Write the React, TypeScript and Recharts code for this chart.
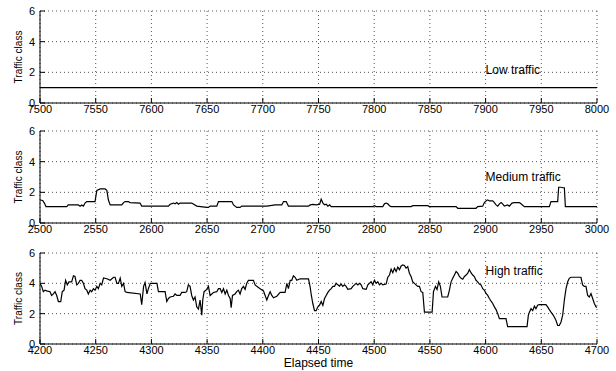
import { LineChart, Line, XAxis, YAxis, CartesianGrid, ReferenceDot } from 'recharts';

const classTicks = [0, 2, 4, 6];

// low traffic: flat at class 1
const lowTicks = [7500, 7550, 7600, 7650, 7700, 7750, 7800, 7850, 7900, 7950, 8000];
const lowTime = [7500, 8000];
const lowClass = [1, 1];

const mediumTicks = [2500, 2550, 2600, 2650, 2700, 2750, 2800, 2850, 2900, 2950, 3000];
const mediumTime = [
  2500, 2502.4, 2503.9, 2505.4, 2524, 2525.4, 2534.4, 2536, 2537.4, 2539,
  2540.4, 2542, 2549.4, 2551, 2554, 2558.4, 2560, 2561.4, 2563, 2573.4,
  2575, 2576.4, 2579.3, 2580.8, 2589.8, 2591.3, 2615.3, 2616.8, 2619.8, 2621.3,
  2622.8, 2624.3, 2625.7, 2636.2, 2640.7, 2649.7, 2651.2, 2652.7, 2658.7, 2660.2,
  2672.2, 2673.7, 2676.6, 2679.6, 2681.1, 2703.6, 2711.1, 2717, 2718.6, 2721,
  2723, 2741, 2742.5, 2745, 2748, 2751, 2752.4, 2754, 2755.4, 2757,
  2758.4, 2760, 2761.4, 2798.7, 2800.2, 2801.7, 2807.7, 2809.2, 2810.7, 2812.2,
  2813.7, 2815.2, 2833.1, 2834.6, 2848.1, 2849.6, 2873.5, 2875, 2891.4, 2892.9,
  2897.4, 2898.9, 2900.4, 2901.9, 2903.4, 2906.4, 2907.9, 2909.4, 2910.9, 2912.4,
  2913.9, 2915.3, 2916.8, 2919.8, 2921.3, 2923.7, 2925.8, 2930.3, 2931.8, 2934.8,
  2957.2, 2958.7, 2964.7, 2965.6, 2967.7, 2969.2, 2970.7, 2971.6, 3000,
];
const mediumClass = [
  1.5, 1.47, 1.3, 1.07, 1.07, 1.18, 1.18, 1.1, 1.18, 1.1,
  1.3, 1.4, 1.4, 2.13, 2.22, 2.22, 2.13, 1.5, 1.18, 1.18,
  1.33, 1.4, 1.4, 1.33, 1.3, 1.1, 1.1, 1.22, 1.3, 1.25,
  1.33, 1.22, 1.3, 1.3, 1.1, 1.02, 1.02, 1.1, 1.1, 1.4,
  1.4, 1.18, 1.02, 1.02, 1.1, 1.1, 1.18, 1.18, 1.4, 1.4,
  1.1, 1.1, 1.18, 1.22, 1.18, 1.22, 1.55, 1.3, 1.18, 1.22,
  1.1, 1.18, 1.07, 1.07, 1.13, 1.07, 1.07, 1.25, 1.3, 1.25,
  1.13, 1.07, 1.07, 1.13, 1.13, 1.07, 1.07, 0.96, 0.96, 1.07,
  1.1, 1.33, 1.44, 1.51, 1.44, 1.44, 1.33, 1.18, 1.1, 1.25,
  1.33, 1.25, 1.1, 1.18, 1.1, 1.3, 1.33, 1.33, 1.25, 1.07,
  1.07, 1.4, 1.4, 2.33, 2.33, 2.3, 2.3, 1.07, 1.07,
];

const highTicks = [4200, 4250, 4300, 4350, 4400, 4450, 4500, 4550, 4600, 4650, 4700];
const highTime = [
  4200, 4201.5, 4203, 4204.5, 4206, 4209, 4210.4, 4212, 4213.5, 4215,
  4216.5, 4218.6, 4220, 4221.6, 4223, 4224.5, 4226, 4228.4, 4230, 4231.4,
  4233, 4234.4, 4236, 4237.4, 4239, 4240.4, 4242, 4243.4, 4245, 4246.4,
  4248, 4249.4, 4251, 4252.4, 4254, 4255.4, 4257, 4260, 4263, 4266,
  4267.4, 4269, 4270.4, 4272, 4273.4, 4275, 4276.4, 4278, 4290, 4291.3,
  4293, 4294.3, 4296, 4297.3, 4299, 4305, 4306.3, 4312.3, 4313.8, 4315.3,
  4316.8, 4319.8, 4321.3, 4322.8, 4325.7, 4327.2, 4330.2, 4331.7, 4333.2, 4334.7,
  4336.2, 4337.7, 4339.2, 4340.7, 4342.2, 4343.7, 4345.2, 4346.1, 4347.3, 4349.7,
  4351.2, 4352.7, 4355.7, 4358.7, 4360.2, 4361.7, 4363.2, 4364.7, 4366.2, 4367.7,
  4369.2, 4370.7, 4371.6, 4372.8, 4375.1, 4376.6, 4378.1, 4379.6, 4381.1, 4382.6,
  4384.1, 4385.6, 4387.1, 4391.6, 4393.1, 4394.6, 4397.6, 4400.6, 4402.1, 4403.6,
  4405.1, 4406.6, 4408.1, 4409.6, 4412.6, 4415.6, 4420, 4421.6, 4423, 4424.6,
  4426, 4427.5, 4429, 4430.5, 4433.5, 4441, 4442.4, 4443.6, 4444.9, 4446.4,
  4447.9, 4449.4, 4450.9, 4452.4, 4453.9, 4455.4, 4456.9, 4458.4, 4459.9, 4461.4,
  4462.9, 4464.4, 4465.8, 4467.3, 4468.8, 4470.3, 4471.8, 4473.3, 4474.8, 4476.3,
  4479.3, 4480.8, 4482.3, 4483.8, 4485.3, 4486.8, 4488.3, 4489.8, 4492.8, 4494.3,
  4495.7, 4497.2, 4498.7, 4500.2, 4501.7, 4503.2, 4504.7, 4506.2, 4507.7, 4510.7,
  4512.2, 4513.7, 4515.2, 4516.7, 4518.2, 4519.7, 4521.2, 4522.7, 4524.2, 4525.6,
  4527.1, 4528.6, 4530.1, 4531.6, 4533.1, 4534.6, 4536.1, 4537.6, 4539.1, 4540.6,
  4542.1, 4543.6, 4545.1, 4552, 4553.2, 4555, 4556.4, 4557.9, 4559.4, 4560.9,
  4566, 4567.5, 4569, 4570.5, 4572, 4573.5, 4575, 4576.5, 4578, 4579.5,
  4581, 4582.5, 4584, 4585.4, 4586.9, 4588.4, 4589.9, 4591.4, 4592.9, 4594.4,
  4595.9, 4597.4, 4598.9, 4600.4, 4601.9, 4603.4, 4604.9, 4606.4, 4607.9, 4609.4,
  4610.9, 4612.4, 4618.3, 4619.8, 4637.2, 4638.4, 4639.3, 4640.8, 4642.3, 4643.8,
  4645.2, 4646.7, 4648.2, 4654.2, 4655.7, 4657.2, 4658.7, 4660.2, 4661.7, 4663.2,
  4664.7, 4666.2, 4667.7, 4669.2, 4670.7, 4672.2, 4673.7, 4675.1, 4676.6, 4685.6,
  4687.1, 4688.6, 4690.1, 4691.6, 4693.1, 4694.6, 4696.1, 4697.6, 4699.1, 4700,
];
const highClass = [
  4.0, 3.8, 3.45, 3.55, 3.5, 3.45, 3.2, 3.3, 3.45, 3.2,
  2.8, 2.8, 3.45, 3.55, 4.2, 3.9, 4.1, 4.1, 4.5, 4.45,
  3.9, 4.0, 4.2, 4.2, 4.0, 3.65, 3.55, 3.3, 3.55, 3.45,
  3.65, 3.55, 3.8, 3.65, 4.0, 3.9, 4.35, 4.3, 4.2, 4.4,
  4.4, 4.0, 4.0, 4.35, 3.8, 4.0, 3.45, 3.4, 3.3, 2.6,
  3.8, 4.05, 3.3, 3.65, 4.0, 4.0, 3.45, 3.45, 2.8, 3.0,
  3.1, 3.15, 3.3, 3.2, 3.2, 3.4, 3.4, 3.45, 3.9, 3.8,
  3.2, 2.9, 3.1, 2.45, 2.3, 2.9, 1.9, 2.9, 3.45, 3.6,
  3.8, 3.2, 3.4, 3.45, 3.65, 3.65, 3.4, 3.65, 3.3, 3.55,
  3.2, 3.0, 2.4, 3.2, 3.3, 3.45, 3.55, 3.3, 3.65, 3.8,
  3.6, 4.0, 4.2, 4.2, 3.9, 3.8, 3.65, 3.5, 3.2, 2.9,
  3.2, 3.45, 3.2, 3.05, 3.15, 3.4, 3.4, 4.0, 3.65, 4.2,
  4.2, 4.5, 4.4, 4.2, 4.3, 4.3, 3.8, 3.2, 2.67, 2.2,
  2.2, 2.45, 2.55, 2.8, 2.55, 3.0, 3.2, 3.4, 3.55, 3.65,
  3.8, 3.8, 4.0, 3.9, 3.82, 3.95, 3.8, 3.9, 3.8, 3.6,
  3.65, 3.8, 3.9, 4.0, 3.9, 4.0, 3.9, 3.65, 3.6, 3.9,
  4.0, 4.1, 3.9, 4.2, 4.0, 4.1, 3.9, 4.0, 3.9, 3.95,
  4.4, 4.55, 4.93, 4.7, 5.0, 4.78, 5.07, 4.9, 5.15, 5.22,
  5.18, 5.0, 5.1, 4.67, 4.45, 4.1, 4.0, 3.9, 3.8, 3.8,
  3.45, 3.4, 2.1, 2.1, 3.45, 3.8, 3.6, 4.1, 3.8, 3.1,
  3.1, 3.55, 4.1, 4.33, 4.55, 4.78, 4.67, 4.45, 4.33, 4.27,
  4.45, 4.55, 4.67, 4.9, 4.7, 4.55, 4.45, 4.2, 4.1, 3.95,
  3.9, 3.65, 3.55, 3.33, 3.2, 3.0, 2.82, 2.67, 2.45, 2.27,
  2.0, 1.67, 1.67, 1.15, 1.15, 1.9, 2.1, 2.33, 2.2, 2.5,
  2.33, 2.55, 2.6, 2.6, 2.45, 2.27, 2.1, 1.95, 1.78, 1.55,
  1.22, 1.22, 1.45, 1.9, 2.9, 3.65, 4.1, 4.33, 4.4, 4.4,
  3.9, 3.8, 3.8, 3.2, 3.1, 3.33, 3.0, 2.67, 2.45, 2.4,
];

interface PanelProps {
  time: number[];
  values: number[];
  ticks: number[];
  note: string;
  noteX: number;
  noteY: number;
  top: number;
  height: number;
  xLabel?: string;
}

function Panel({ time, values, ticks, note, noteX, noteY, top, height, xLabel }: PanelProps) {
  const rows = time.map((t, i) => ({ time: t, value: values[i] }));
  const domain: [number, number] = [ticks[0], ticks[ticks.length - 1]];
  const tickFont = { fill: '#000', fontSize: 11 };

  return (
    <div style={{ position: 'absolute', left: 0, top }}>
      <LineChart
        width={616}
        height={height}
        data={rows}
        margin={{ top: 11, right: 19, bottom: 0, left: 0 }}
      >
        <CartesianGrid stroke="#555" strokeDasharray="1 3" />
        <XAxis
          dataKey="time"
          type="number"
          domain={domain}
          ticks={ticks}
          interval={0}
          allowDataOverflow
          stroke="#000"
          tick={tickFont}
          tickSize={-5}
          tickMargin={7}
          height={xLabel ? 27 : 17}
          label={
            xLabel
              ? { value: xLabel, position: 'insideBottom', offset: 4, fill: '#000', fontSize: 12 }
              : undefined
          }
        />
        <XAxis
          xAxisId="top"
          orientation="top"
          dataKey="time"
          type="number"
          domain={domain}
          ticks={ticks}
          interval={0}
          stroke="#000"
          tick={false}
          tickSize={-5}
          height={0}
        />
        <YAxis
          domain={[0, 6]}
          ticks={classTicks}
          interval={0}
          stroke="#000"
          tick={tickFont}
          tickSize={-5}
          tickMargin={10}
          width={40}
          label={{
            value: 'Traffic class',
            angle: -90,
            position: 'insideLeft',
            offset: 18,
            fill: '#000',
            fontSize: 10,
            style: { textAnchor: 'middle' },
          }}
        />
        <YAxis
          yAxisId="right"
          orientation="right"
          domain={[0, 6]}
          ticks={classTicks}
          interval={0}
          stroke="#000"
          tick={false}
          tickSize={-5}
          width={0}
        />
        <Line
          type="linear"
          dataKey="value"
          stroke="#000"
          strokeWidth={1.2}
          dot={false}
          isAnimationActive={false}
        />
        <ReferenceDot
          x={noteX}
          y={noteY}
          r={0}
          fill="none"
          stroke="none"
          label={{ value: note, position: 'right', offset: 0, fill: '#000', fontSize: 12 }}
        />
      </LineChart>
    </div>
  );
}

export default function App() {
  return (
    <div
      style={{
        position: 'absolute',
        left: 0,
        top: 0,
        width: 616,
        height: 371,
        background: '#fff',
        fontFamily: '"Liberation Sans", Arial, sans-serif',
      }}
    >
      <Panel time={lowTime} values={lowClass} ticks={lowTicks} note="Low traffic" noteX={7900} noteY={2.16} top={0} height={120} />
      <Panel time={mediumTime} values={mediumClass} ticks={mediumTicks} note="Medium traffic" noteX={2900} noteY={3.03} top={120} height={120} />
      <Panel time={highTime} values={highClass} ticks={highTicks} note="High traffic" noteX={4600} noteY={4.8} top={242} height={129} xLabel="Elapsed time" />
    </div>
  );
}
